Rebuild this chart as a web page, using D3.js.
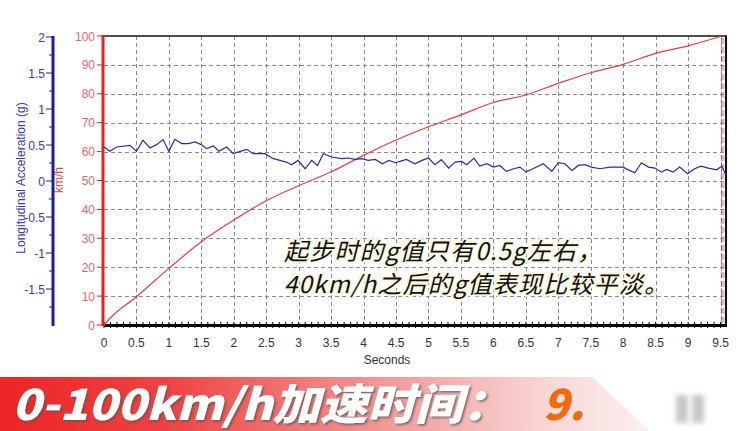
<!DOCTYPE html>
<html><head><meta charset="utf-8">
<script src="https://cdn.jsdelivr.net/npm/d3@7"></script>
<style>html,body{margin:0;padding:0;background:#fff;}svg{display:block;}</style>
</head><body>
<svg id="chart" width="741" height="431"></svg>
<script>
// ---- data ----
const speedTime = [0, 0.1, 0.5, 1.0, 1.5, 2.0, 2.5, 3.0, 3.5, 4.0, 4.5, 5.0, 5.5, 6.0, 6.5, 7.0, 7.5, 8.0, 8.5, 9.0, 9.52];
const speedKmh  = [0, 2.5, 9.8, 19.6, 28.8, 36.3, 43.0, 48.2, 53.0, 58.7, 64.0, 68.6, 72.7, 77.0, 79.6, 83.6, 87.3, 90.2, 94.0, 96.6, 100];
const accTime = [0,0.09,0.195,0.40,0.50,0.60,0.71,0.81,0.91,1.00,1.09,1.20,1.30,1.40,1.50,1.58,1.69,1.77,1.89,1.99,2.10,2.20,2.30,2.48,2.61,2.71,2.81,2.89,2.99,3.10,3.20,3.29,3.38,3.51,3.66,3.76,3.87,3.97,4.07,4.18,4.29,4.39,4.49,4.56,4.66,4.79,4.90,5.00,5.10,5.20,5.31,5.41,5.51,5.59,5.70,5.79,5.90,6.00,6.10,6.20,6.31,6.41,6.50,6.61,6.77,6.90,7.00,7.10,7.21,7.31,7.41,7.51,7.64,7.80,8.00,8.10,8.18,8.28,8.39,8.49,8.59,8.67,8.77,8.87,8.99,9.10,9.20,9.31,9.44,9.52,9.58];
const accG = [0.472,0.412,0.472,0.496,0.412,0.566,0.458,0.505,0.575,0.412,0.58,0.52,0.52,0.542,0.505,0.449,0.486,0.412,0.472,0.38,0.412,0.44,0.38,0.38,0.31,0.286,0.263,0.226,0.286,0.17,0.286,0.216,0.38,0.333,0.31,0.319,0.30,0.31,0.286,0.30,0.24,0.286,0.254,0.272,0.30,0.24,0.286,0.319,0.226,0.296,0.179,0.263,0.272,0.226,0.319,0.207,0.24,0.193,0.216,0.133,0.17,0.193,0.123,0.17,0.24,0.133,0.254,0.24,0.147,0.216,0.226,0.193,0.17,0.193,0.193,0.147,0.114,0.254,0.193,0.179,0.123,0.16,0.123,0.193,0.10,0.17,0.207,0.179,0.156,0.207,0.086];
const xTicks = [0,0.5,1,1.5,2,2.5,3,3.5,4,4.5,5,5.5,6,6.5,7,7.5,8,8.5,9,9.5];
const kmhTicks = [0,10,20,30,40,50,60,70,80,90,100];
const gTicks = [-1.5,-1,-0.5,0,0.5,1,1.5,2];
const xLabel = "Seconds";
const gLabel = "Longitudinal Acceleration (g)";
const kmhLabel = "km/h";
const noteLines = ["起步时的g值只有0.5g左右，", "40km/h之后的g值表现比较平淡。"];
const bannerText = "0-100km/h加速时间：";
const bannerValue = "9.";

// ---- layout ----
const svg = d3.select("#chart");
const L = 104, R = 726, T = 36, B = 325;
const x = d3.scaleLinear().domain([0, 9.584]).range([L, R]);
const yV = d3.scaleLinear().domain([0, 100]).range([B, T]);
const yG = d3.scaleLinear().domain([-2, 2]).range([B, T + 1]);
const font = "'Liberation Sans', Arial, sans-serif";

// grid
const grid = svg.append("g").attr("stroke", "#8a8a8a").attr("stroke-width", 1).attr("stroke-dasharray", "4,3");
grid.selectAll("line.v").data(xTicks.filter(d => d > 0)).join("line")
  .attr("x1", d => Math.round(x(d)) + 0.5).attr("x2", d => Math.round(x(d)) + 0.5)
  .attr("y1", T).attr("y2", B);
grid.selectAll("line.h").data(kmhTicks.filter(d => d > 0 && d < 100)).join("line")
  .attr("x1", L).attr("x2", R)
  .attr("y1", d => Math.round(yV(d)) + 0.5).attr("y2", d => Math.round(yV(d)) + 0.5);

// end marker (red dashed double line)
svg.append("line").attr("x1", x(9.52)).attr("x2", x(9.52)).attr("y1", T + 2).attr("y2", B)
  .attr("stroke", "#c04040").attr("stroke-width", 1).attr("stroke-dasharray", "6,3");
svg.append("line").attr("x1", x(9.52) + 2).attr("x2", x(9.52) + 2).attr("y1", T + 2).attr("y2", B)
  .attr("stroke", "#d89090").attr("stroke-width", 1).attr("stroke-dasharray", "6,3");

// frame top / right
svg.append("line").attr("x1", L).attr("x2", R + 1).attr("y1", T).attr("y2", T).attr("stroke", "#111").attr("stroke-width", 1.5);
svg.append("line").attr("x1", R).attr("x2", R).attr("y1", T).attr("y2", B).attr("stroke", "#111").attr("stroke-width", 2);

// x axis
const xAxis = svg.append("g");
xAxis.append("line").attr("x1", L).attr("x2", R + 1).attr("y1", B + 0.5).attr("y2", B + 0.5).attr("stroke", "#000").attr("stroke-width", 3);
xAxis.selectAll("line.minor").data(d3.range(0, 96).map(i => i / 10)).join("line")
  .attr("x1", d => x(d)).attr("x2", d => x(d)).attr("y1", B - 3).attr("y2", B + 3)
  .attr("stroke", "#000").attr("stroke-width", 1);
xAxis.selectAll("text").data(xTicks).join("text")
  .attr("x", d => x(d)).attr("y", B + 22).attr("text-anchor", "middle")
  .attr("font-family", font).attr("font-size", 12).attr("fill", "#333")
  .text(d => d);
svg.append("text").attr("x", 387).attr("y", 364).attr("text-anchor", "middle")
  .attr("font-family", font).attr("font-size", 12).attr("fill", "#333").text(xLabel);

// red km/h axis
const rAx = svg.append("g");
rAx.append("line").attr("x1", L - 1).attr("x2", L - 1).attr("y1", T - 1).attr("y2", B + 1).attr("stroke", "#e52222").attr("stroke-width", 3);
rAx.selectAll("line.t").data(kmhTicks).join("line")
  .attr("x1", L - 7).attr("x2", L).attr("y1", d => yV(d)).attr("y2", d => yV(d))
  .attr("stroke", "#e52222").attr("stroke-width", 1);
rAx.selectAll("text").data(kmhTicks).join("text")
  .attr("x", L - 9).attr("y", d => yV(d) + 4.5).attr("text-anchor", "end")
  .attr("font-family", font).attr("font-size", 12).attr("fill", "#e06a6a").text(d => d);
svg.append("text").attr("transform", "translate(63,180) rotate(-90)").attr("text-anchor", "middle")
  .attr("font-family", font).attr("font-size", 12).attr("fill", "#d84848").text(kmhLabel);

// blue g axis
const gAxX = 53;
const bAx = svg.append("g");
bAx.append("line").attr("x1", gAxX).attr("x2", gAxX).attr("y1", T).attr("y2", B + 1).attr("stroke", "#1c1ca0").attr("stroke-width", 3);
bAx.selectAll("line.t").data(gTicks).join("line")
  .attr("x1", gAxX - 7).attr("x2", gAxX).attr("y1", d => yG(d)).attr("y2", d => yG(d))
  .attr("stroke", "#1c1ca0").attr("stroke-width", 1);
bAx.selectAll("line.m").data(d3.range(-1.75, 2, 0.5)).join("line")
  .attr("x1", gAxX - 4).attr("x2", gAxX).attr("y1", d => yG(d)).attr("y2", d => yG(d))
  .attr("stroke", "#1c1ca0").attr("stroke-width", 1);
bAx.selectAll("text").data(gTicks).join("text")
  .attr("x", gAxX - 8).attr("y", d => yG(d) + 4.5).attr("text-anchor", "end")
  .attr("font-family", font).attr("font-size", 12).attr("fill", "#3838a8").text(d => d);
svg.append("text").attr("transform", "translate(25,178) rotate(-90)").attr("text-anchor", "middle")
  .attr("font-family", font).attr("font-size", 12).attr("fill", "#3838a8").text(gLabel);

// series
const speedData = speedTime.map((t, i) => [t, speedKmh[i]]);
const accData = accTime.map((t, i) => [t, accG[i]]);
svg.append("path").datum(speedData)
  .attr("d", d3.line().x(d => x(d[0])).y(d => yV(d[1])).curve(d3.curveMonotoneX))
  .attr("fill", "none").attr("stroke", "#e04040").attr("stroke-width", 1.2);
svg.append("path").datum(accData)
  .attr("d", d3.line().x(d => x(d[0])).y(d => yG(d[1])))
  .attr("fill", "none").attr("stroke", "#2a2a9e").attr("stroke-width", 1.2);

// annotation
const note = svg.append("g").attr("font-family", "'Noto Sans CJK SC', sans-serif")
  .attr("font-size", 24).attr("font-style", "italic").attr("fill", "#111");
noteLines.forEach((s, i) => {
  note.append("text").attr("x", 284).attr("y", 260 + i * 33)
    .attr("stroke", "#fbf8e2").attr("stroke-width", 4).attr("paint-order", "stroke")
    .attr("stroke-linejoin", "round").attr("letter-spacing", 1.2).text(s);
});

// banner
const defs = svg.append("defs");
const grad = defs.append("linearGradient").attr("id", "bg").attr("x1", 0).attr("x2", 1).attr("y1", 0).attr("y2", 0);
grad.append("stop").attr("offset", "0").attr("stop-color", "#ec2525");
grad.append("stop").attr("offset", "0.25").attr("stop-color", "#ee4242");
grad.append("stop").attr("offset", "0.6").attr("stop-color", "#f39a9a");
grad.append("stop").attr("offset", "0.85").attr("stop-color", "#f9d8d8");
grad.append("stop").attr("offset", "1").attr("stop-color", "#fdf0f0");
svg.append("path").attr("d", "M0,377 L592,377 L650,431 L0,431 Z").attr("fill", "url(#bg)");
const blur = defs.append("filter").attr("id", "blur").attr("x", "-50%").attr("y", "-50%").attr("width", "200%").attr("height", "200%");
blur.append("feGaussianBlur").attr("stdDeviation", 2.5);
const shadow = defs.append("filter").attr("id", "sh").attr("x", "-10%").attr("y", "-20%").attr("width", "120%").attr("height", "140%");
shadow.append("feDropShadow").attr("dx", 1.5).attr("dy", 1.5).attr("stdDeviation", 1.2).attr("flood-color", "#555").attr("flood-opacity", 0.8);
svg.append("text").attr("x", 12).attr("y", 420)
  .attr("font-family", "'Noto Sans CJK SC', sans-serif").attr("font-weight", 900).attr("font-style", "italic")
  .attr("font-size", 43).attr("fill", "#fff").attr("filter", "url(#sh)")
  .attr("textLength", 498).attr("lengthAdjust", "spacingAndGlyphs").text(bannerText);
svg.append("text").attr("x", 543).attr("y", 420)
  .attr("font-family", "'Noto Sans CJK SC', sans-serif").attr("font-weight", 900).attr("font-style", "italic")
  .attr("font-size", 43).attr("fill", "#f06a10").text(bannerValue);
svg.append("rect").attr("x", 676).attr("y", 395).attr("width", 12).attr("height", 28).attr("fill", "#c8c8c8").attr("filter", "url(#blur)");
svg.append("rect").attr("x", 692).attr("y", 395).attr("width", 12).attr("height", 28).attr("fill", "#c8c8c8").attr("filter", "url(#blur)");
</script>
</body></html>
